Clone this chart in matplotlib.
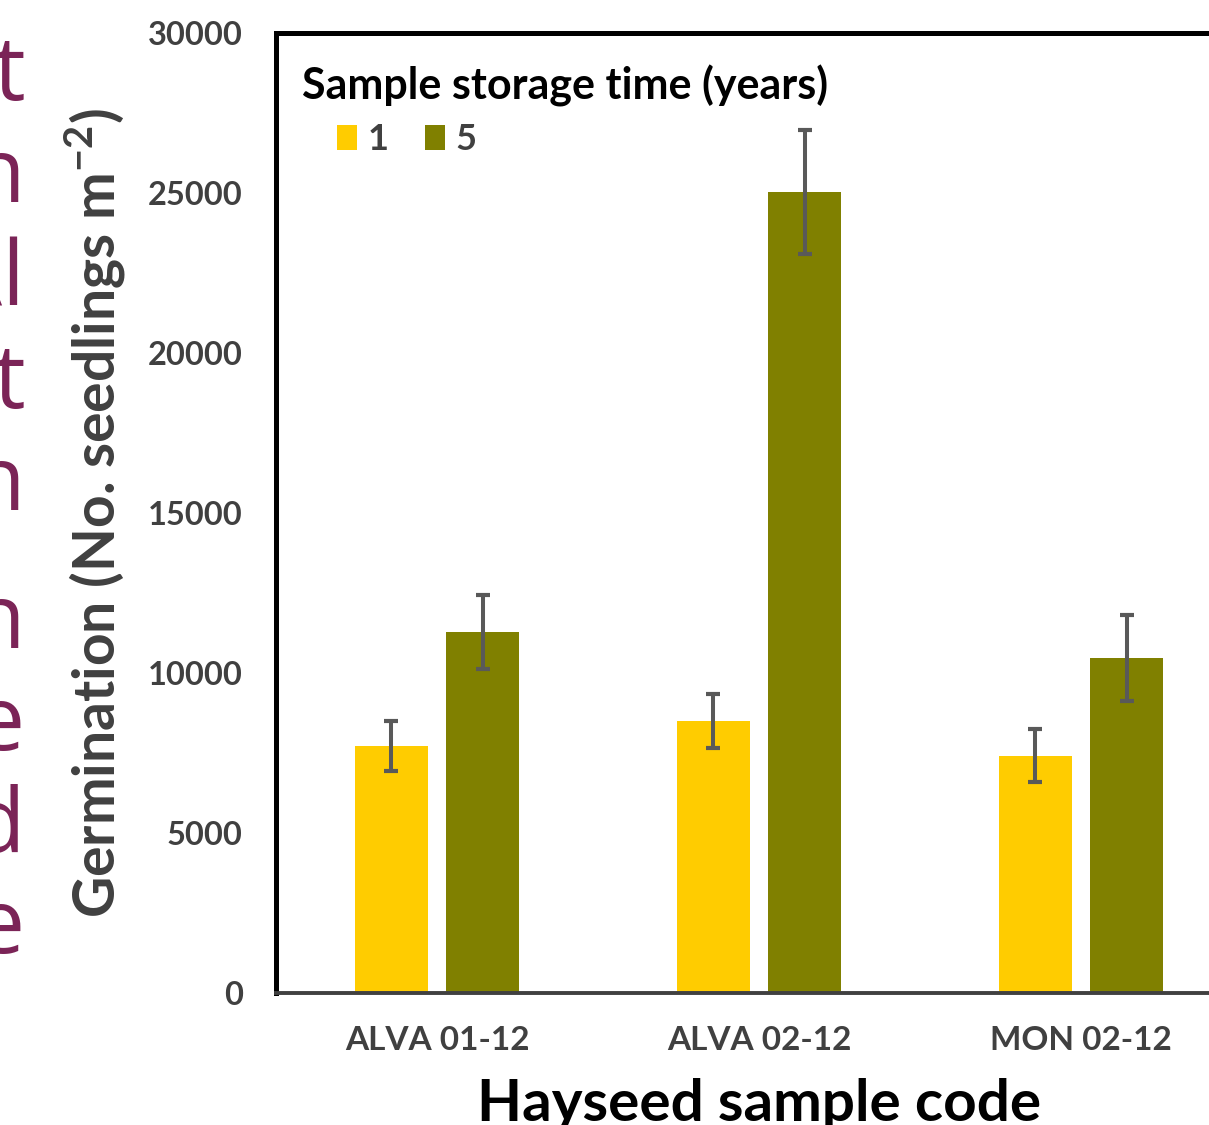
import numpy as np
import matplotlib.pyplot as plt

plt.rcParams["mathtext.fontset"] = "custom"
plt.rcParams["mathtext.rm"] = "Lato"
plt.rcParams["mathtext.bf"] = "Lato:bold"

# dane
samples = ["ALVA 01-12", "ALVA 02-12", "MON 02-12"]
storage_years = ["1", "5"]
germ_1yr = [7720, 8500, 7410]
germ_5yr = [11280, 25030, 10470]
err_1yr = [770, 830, 830]
err_5yr = [1160, 1940, 1340]
yticks = [0, 5000, 10000, 15000, 20000, 25000, 30000]

# obciete litery tekstu slajdu po lewej
side_letters = ["t", "n", "Al", "t", "n", "n", "e", "d", "e"]
side_baselines = [100, 202, 305, 408, 510, 648, 750, 852, 953]

W, H = 1209, 1125
fig = plt.figure(figsize=(W / 100, H / 100), dpi=100)
ax = fig.add_axes([276 / W, (H - 993) / H, 966 / W, 960 / H])

x = np.arange(len(samples))
bw = 0.227
off = 0.142
ekw = dict(ecolor="#595959", elinewidth=2.9, capsize=5, capthick=3)
ax.bar(x - off, germ_1yr, bw, yerr=err_1yr, color="#FFCC00", error_kw=ekw, label=storage_years[0])
ax.bar(x + off, germ_5yr, bw, yerr=err_5yr, color="#808000", error_kw=ekw, label=storage_years[1])

ax.set_xlim(-0.5, 2.5)
ax.set_ylim(0, 30000)
ax.set_yticks(yticks)
ax.set_xticks(x)
ax.set_xticklabels(samples)
ax.tick_params(length=0, colors="#404040")
ax.tick_params(axis="y", pad=24, labelsize=23.5)
ax.tick_params(axis="x", pad=24, labelsize=24)
for lab in ax.get_xticklabels() + ax.get_yticklabels():
    lab.set_fontweight("bold")
    lab.set_family("Lato")

ax.spines["left"].set_linewidth(3.6)
ax.spines["top"].set_linewidth(3.6)
ax.spines["right"].set_visible(False)
ax.spines["bottom"].set_color("#404040")
ax.spines["bottom"].set_linewidth(2.8)

ax.set_ylabel("Germination (No. seedlings m$^{\\mathbf{-2}}$)", fontsize=41, fontweight="bold",
              family="Lato", color="#404040", labelpad=14)
ax.set_xlabel("Hayseed sample code", fontsize=42, fontweight="bold", family="Lato", labelpad=16)

# legenda: tytul osobno, wpisy wciete
ax.text(26 / 966, 1 - 53 / 960, "Sample storage time (years)", transform=ax.transAxes,
        ha="left", va="center", fontsize=31, fontweight="bold", family="Lato")
leg = ax.legend(ncol=2, frameon=False, loc="upper left",
                bbox_to_anchor=(61 / 966, 1 - 90 / 960), borderaxespad=0, borderpad=0,
                handlelength=0.55, handleheight=0.7, handletextpad=0.3, columnspacing=1.0,
                prop=dict(family="Lato", weight="bold", size=26))
for t in leg.get_texts():
    t.set_color("#404040")

for letter, yb in zip(side_letters, side_baselines):
    fig.text(25 / W, 1 - yb / H, letter, ha="right", va="baseline", fontsize=64,
             family="Open Sans", color="#7B2457")

fig.savefig("out.png", dpi=100)
